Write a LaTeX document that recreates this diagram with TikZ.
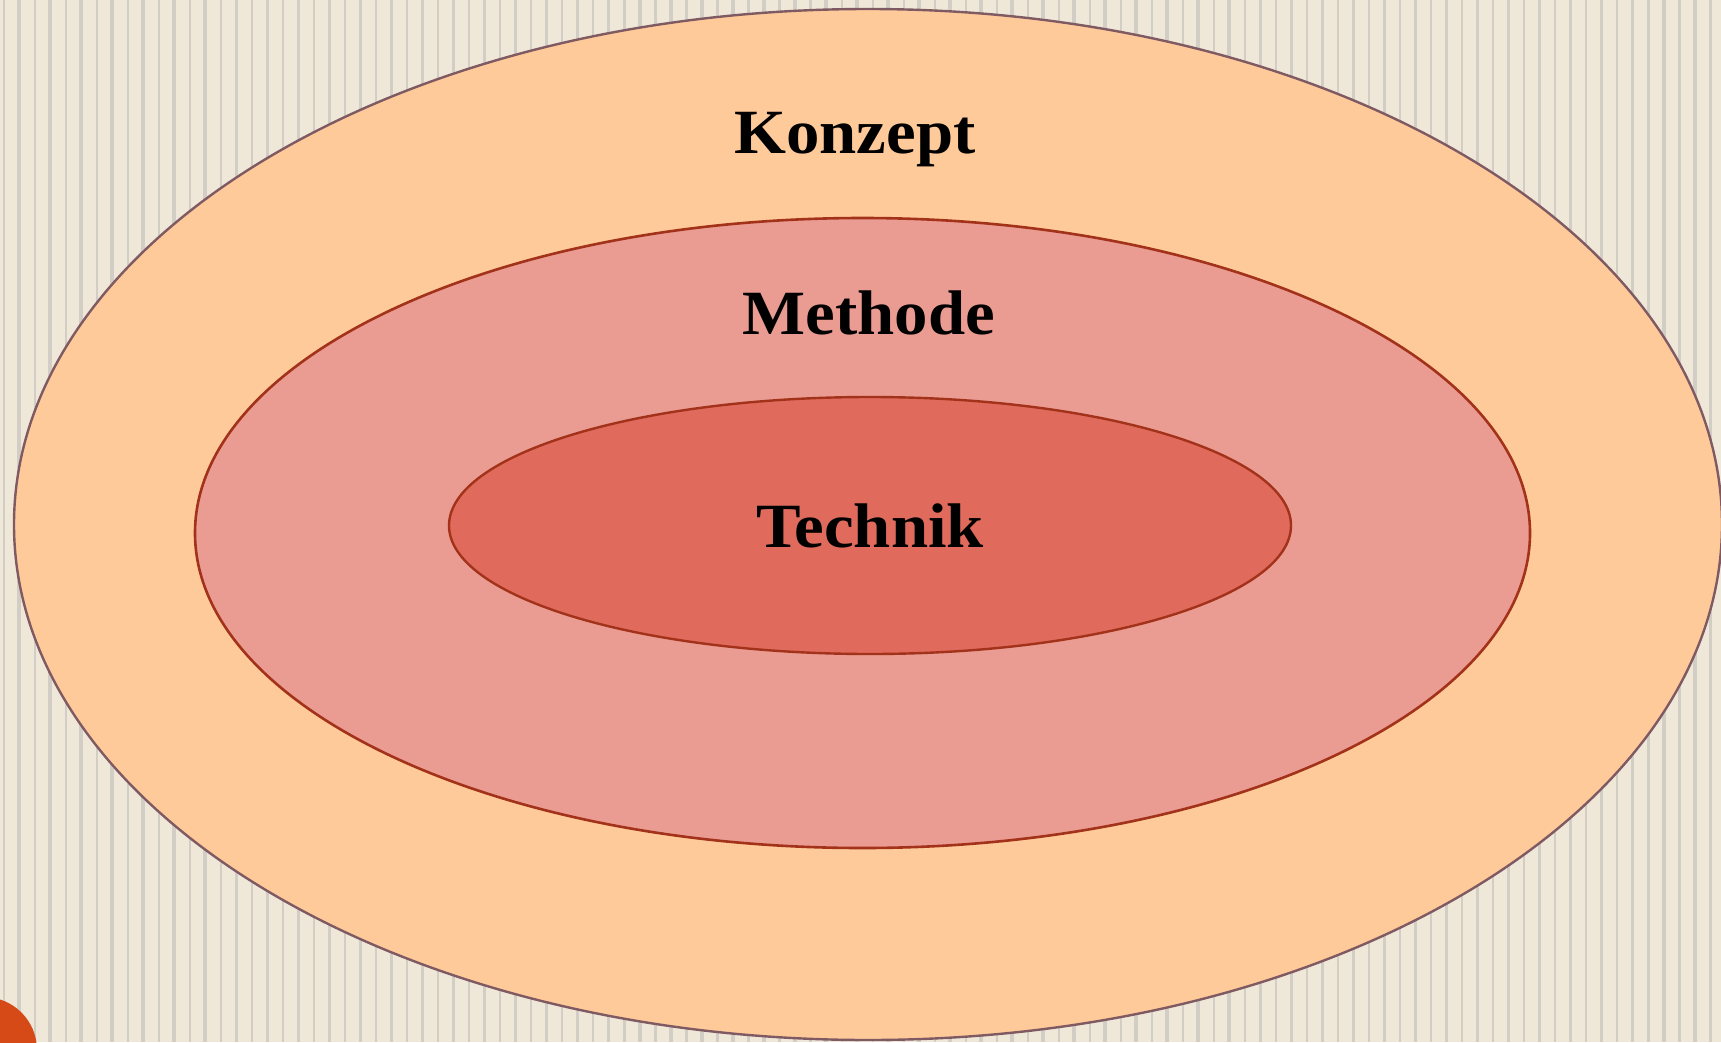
\documentclass[tikz,border=0pt]{standalone}
\usepackage{fontspec}
\setmainfont{Liberation Serif}[BoldFeatures={FakeStretch=1.06}]
\definecolor{bgcream}{HTML}{EFE8D8}
\definecolor{stripecol}{HTML}{D3CEC5}
\definecolor{outerfill}{HTML}{FFCA99}
\definecolor{outerline}{HTML}{7F5A62}
\definecolor{midfill}{HTML}{EA9B92}
\definecolor{innerfill}{HTML}{E06B5D}
\definecolor{redline}{HTML}{A3321A}
\definecolor{dotcol}{HTML}{D64A18}
\begin{document}
\begin{tikzpicture}[x=1pt,y=-1pt,
  label/.style={font=\fontsize{63}{70}\selectfont\bfseries, text=black, inner sep=0pt, anchor=base}]
\useasboundingbox (0,0) rectangle (1721,1042);
\begin{scope}
\clip (0,0) rectangle (1721,1042);
\fill[bgcream] (0,0) rectangle (1721,1042);
\foreach \i in {0,...,55} {
  \fill[stripecol] ({2.7+31.03*\i},0) rectangle ++(2.2,1042);
  \fill[stripecol] ({17.3+31.03*\i},0) rectangle ++(3.6,1042);
}
\draw[fill=outerfill, draw=outerline, line width=2.4pt] (868,524.5) ellipse [x radius=854pt, y radius=515.5pt];
\draw[fill=midfill, draw=redline, line width=2.6pt] (862.5,533) ellipse [x radius=667.5pt, y radius=315pt];
\draw[fill=innerfill, draw=redline, line width=2.4pt] (870,525.5) ellipse [x radius=421pt, y radius=128.5pt];
\fill[dotcol] (-16,1050) circle [radius=53pt];
\end{scope}
\node[label] (konzept) at (855,153) {Konzept};
\node[label] (methode) at (869,334) {Methode};
\node[label] (technik) at (870,547) {Technik};
\end{tikzpicture}
\end{document}
